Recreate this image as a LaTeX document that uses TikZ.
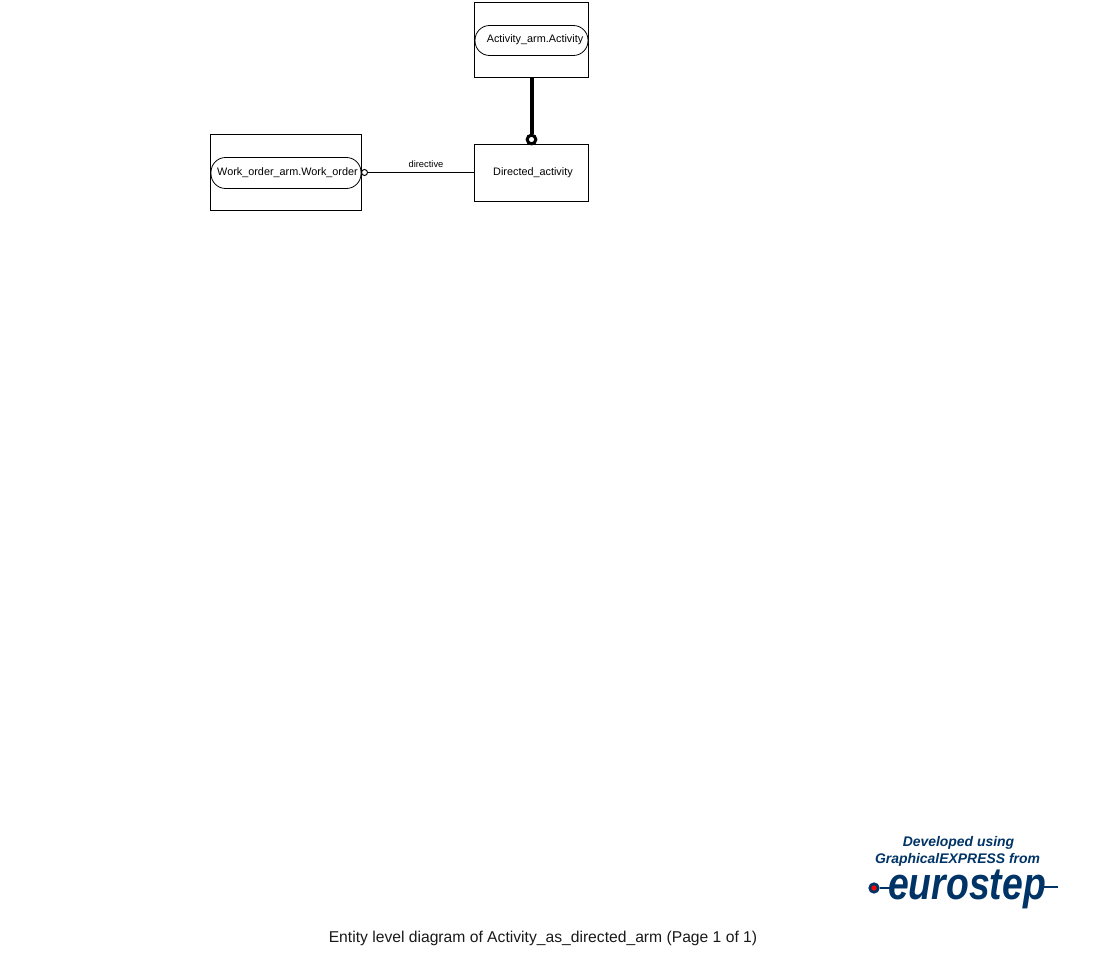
\documentclass[tikz,border=0pt]{standalone}
\usepackage{fontspec}
\setmainfont{Liberation Sans}
\definecolor{esblue}{HTML}{003366}
\begin{document}
\begin{tikzpicture}[x=0.75pt,y=-0.75pt,
  box/.style={draw=black,line width=0.75pt,fill=white,inner sep=0pt,outer sep=0pt},
  pill/.style={draw=black,line width=0.6pt,rounded corners=11pt,fill=white,inner sep=0pt},
  lab/.style={font=\fontsize{8.13pt}{9pt}\selectfont,inner sep=0pt,anchor=center},
  logotext/.style={font=\fontsize{10.45pt}{11pt}\selectfont\bfseries\itshape,text=esblue,inner sep=0pt}]
\useasboundingbox (0,0) rectangle (1099,977);
% boxes
\node[box,minimum width=85.5pt,minimum height=56.25pt] (actbox) at (531.5,40) {};
\node[box,minimum width=85.5pt,minimum height=42.75pt] (dirbox) at (531.5,173) {};
\node[box,minimum width=113.25pt,minimum height=57pt] (wobox) at (286,172.5) {};
\draw[pill] (475,25.5) rectangle (588,55.5);
\draw[pill] (211,157.5) rectangle (361,188.5);
\node[lab] (act) at (535,40) {Activity\_arm.Activity};
\node[lab] (wo) at (287.5,172.5) {Work\_order\_arm.Work\_order};
\node[lab] (dir) at (533,172.5) {Directed\_activity};
% connectors
\node[circle,draw=black,line width=2.25pt,fill=white,minimum size=6.5pt,inner sep=0pt] (ring) at (531.5,139.5) {};
\draw[line width=3pt] (actbox.south) -- (ring.north);
\node[circle,draw=black,line width=0.75pt,fill=white,minimum size=4.5pt,inner sep=0pt] (opt) at (364.5,172.5) {};
\draw[line width=0.75pt] (opt.east) -- (dirbox.west |- opt.east);
\node[font=\fontsize{7pt}{8pt}\selectfont,inner sep=0pt] (dirlab) at (426,164.5) {directive};
% logo
\node[logotext] (l1) at (958.5,843) {Developed using};
\node[logotext] (l2) at (957.5,859.5) {GraphicalEXPRESS from};
\node[inner sep=0pt,text=esblue] (euro) at (967,889.5) {\scalebox{1.12}[1.36]{\fontsize{25pt}{27pt}\selectfont\bfseries\itshape eurostep}};
\node[circle,fill=esblue,minimum size=8.5pt,inner sep=0pt] (dot) at (874,888) {};
\node[circle,fill=red,minimum size=4pt,inner sep=0pt] (dotc) at (874,888) {};
\coordinate (lineL) at (893,888);
\coordinate (lineR) at (1058,887);
\coordinate (lineR0) at (1040,887);
\draw[esblue,line width=2.2pt] (dot.east) -- (lineL);
\draw[esblue,line width=2.2pt] (lineR0) -- (lineR);
% caption
\node[font=\fontsize{11.75pt}{14pt}\selectfont,inner sep=0pt,text=black!90] (cap) at (543,938) {Entity level diagram of Activity\_as\_directed\_arm (Page 1 of 1)};
\end{tikzpicture}
\end{document}
